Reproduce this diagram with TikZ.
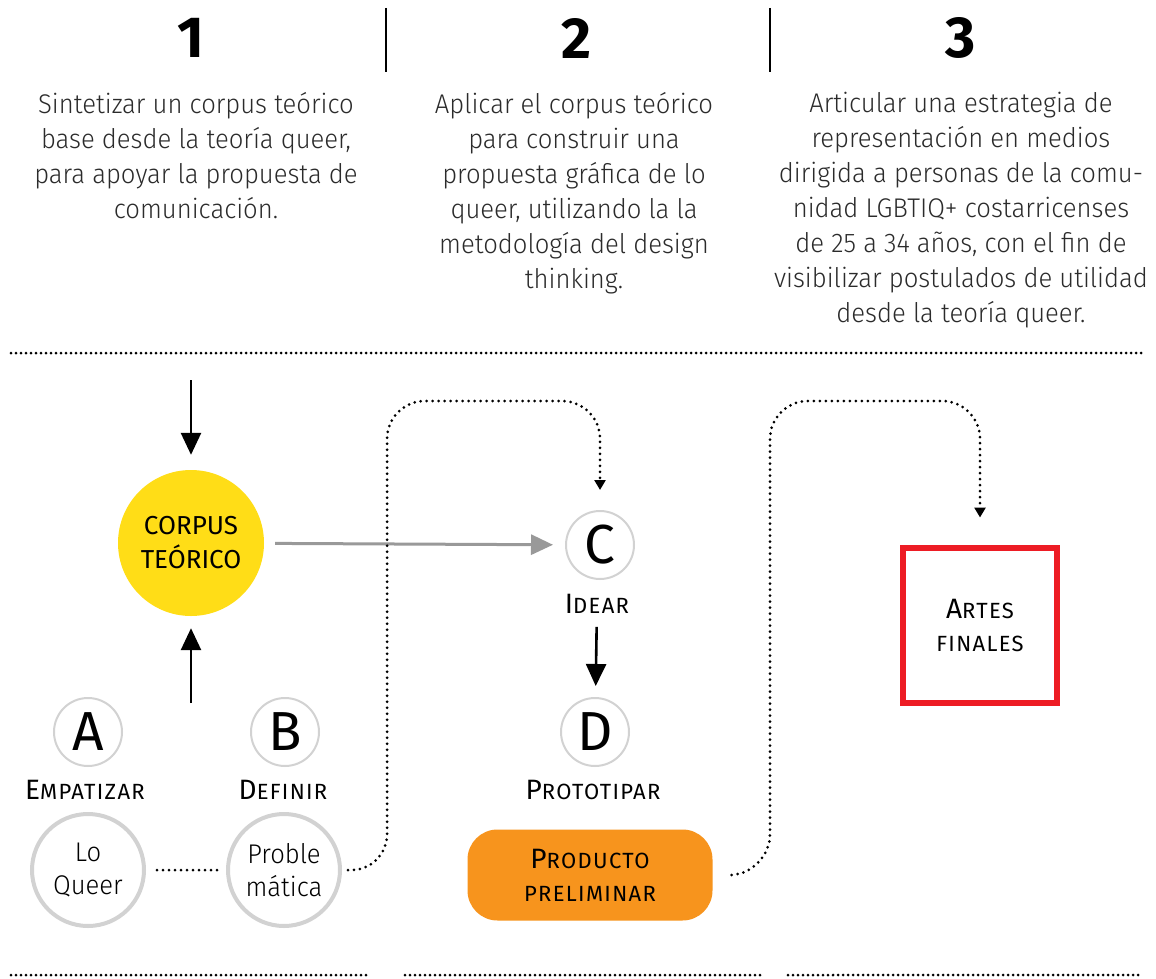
\documentclass[tikz,border=0pt]{standalone}
\usepackage{fontspec}
\setmainfont{Fira Sans}[UprightFont={* Light}, BoldFont={* Bold}, FakeStretch=0.95]
\newfontfamily\regfont{Fira Sans}
\newfontfamily\scfont{Fira Sans}[LetterSpace=6]
\newfontfamily\boldfont{Fira Sans}[UprightFont={* Bold}]
\usetikzlibrary{arrows.meta}
\definecolor{yel}{HTML}{FFDD17}
\definecolor{orng}{HTML}{F7941D}
\definecolor{redb}{HTML}{ED1C24}
\definecolor{ringgray}{HTML}{D2D2D2}
\definecolor{arrgray}{HTML}{999999}
\definecolor{txt}{HTML}{2B2B2B}
\newcommand\capA[1]{{\fontsize{28}{33}\selectfont #1}}
\newcommand\capB[1]{{\fontsize{22}{33}\selectfont #1}}
\begin{document}
\begin{tikzpicture}[x=1pt,y=-1pt,
  num/.style={font=\boldfont\fontsize{58}{60}\selectfont, inner sep=0pt},
  coltext/.style={font=\fontsize{27}{35}\selectfont, text=txt, align=center, inner sep=0pt, anchor=north},
  sepline/.style={line width=2pt, black},
  dotline/.style={line width=3pt, line cap=round, dash pattern=on 0pt off 5pt},
  dotpath/.style={line width=3pt, line cap=round, dash pattern=on 0pt off 6pt, rounded corners=38pt, -{Triangle[length=10pt,width=11pt]}},
  letter/.style={circle, draw=ringgray, line width=2pt, minimum size=68pt, inner sep=0pt, font=\regfont\fontsize{55}{55}\selectfont},
  bigring/.style={circle, draw=ringgray, line width=4pt, minimum size=112pt, inner sep=0pt, align=center, font=\fontsize{27}{33}\selectfont},
  lab/.style={font=\scfont, inner sep=0pt, align=center},
  blk/.style={line width=2.6pt, -{Triangle[length=22pt,width=20pt]}},
  gry/.style={line width=3pt, arrgray, -{Triangle[length=22pt,width=20pt]}}
]
\useasboundingbox (0,0) rectangle (1156,979);
\fill[white] (0,0) rectangle (1156,979);

% header
\node[num] (n1) at (191,38) {1};
\node[num] (n2) at (576,38) {2};
\node[num] (n3) at (961,38) {3};
\draw[sepline] (386,8) -- (386,72);
\draw[sepline] (770,8) -- (770,72);

\node[coltext] (t1) at (196,92) {Sintetizar un corpus teórico\\base desde la teoría queer,\\para apoyar la propuesta de\\comunicación.};
\node[coltext] (t2) at (574,92) {Aplicar el corpus teórico\\para construir una\\propuesta gráfica de lo\\queer, utilizando la la\\metodología del design\\thinking.};
\node[coltext] (t3) at (961,92) {Articular una estrategia de\\representación en medios\\dirigida a personas de la comu-\\nidad LGBTIQ+ costarricenses\\de 25 a 34 años, con el fin de\\visibilizar postulados de utilidad\\desde la teoría queer.};

% dotted separators
\draw[dotline] (11,353) -- (1141,353);
\draw[dotline] (11,975) -- (367,975);
\draw[dotline] (405,975) -- (760,975);
\draw[dotline] (788,975) -- (1141,975);

% corpus
\node[circle, fill=yel, minimum size=146pt, inner sep=0pt, align=center,
      font=\regfont\fontsize{26}{34}\selectfont] (corpus) at (191,543) {CORPUS\\TEÓRICO};
\coordinate (topin) at (191,380);
\coordinate (upfrom) at (191,703);
\draw[blk, shorten >=15pt] (topin) -- (corpus);
\draw[blk, shorten >=12pt] (upfrom) -- (corpus);

% A, B
\node[letter] (A) at (88,732) {A};
\node[letter] (B) at (285,732) {B};
\node[lab] (empat) at (85,790) {\capA{E}\capB{MPATIZAR}};
\node[lab] (defin) at (283,790) {\capA{D}\capB{EFINIR}};
\node[bigring] (loq) at (88,870) {Lo\\Queer};
\node[bigring] (prob) at (284,870) {Proble\\mática};
\draw[dotline, dash pattern=on 0pt off 6pt, shorten <=11pt, shorten >=5pt] (loq) -- (prob);

% C, D
\node[letter] (C) at (600,545) {C};
\node[lab] (idear) at (597,604) {\capA{I}\capB{DEAR}};
\node[letter] (D) at (595,732) {D};
\node[lab] (proto) at (593,790) {\capA{P}\capB{ROTOTIPAR}};
\draw[gry, shorten <=11pt, shorten >=12pt] (corpus) -- (C);
\draw[blk, shorten <=13pt, shorten >=11pt] (idear) -- (D);

% producto
\node[rounded corners=30pt, fill=orng, minimum width=245pt, minimum height=91pt, inner sep=0pt,
      align=center, font=\scfont\fontsize{22}{33}\selectfont] (prod) at (590,875) {\capA{P}\capB{RODUCTO}\\\capB{PRELIMINAR}};

% artes finales
\node[draw=redb, line width=6pt, minimum width=154pt, minimum height=155pt, inner sep=0pt,
      align=center, font=\scfont\fontsize{22}{33}\selectfont] (artes) at (980,625) {\capA{A}\capB{RTES}\\\capB{FINALES}};

% dotted connectors
\draw[dotpath] ([xshift=6pt]prob.east) -- (387,872) -- (387,401) -| ([yshift=20pt]C.north);
\draw[dotpath] ([xshift=19pt]prod.east) -- (770,872) -- (770,401) -| ([yshift=27pt]artes.north);
\end{tikzpicture}
\end{document}
